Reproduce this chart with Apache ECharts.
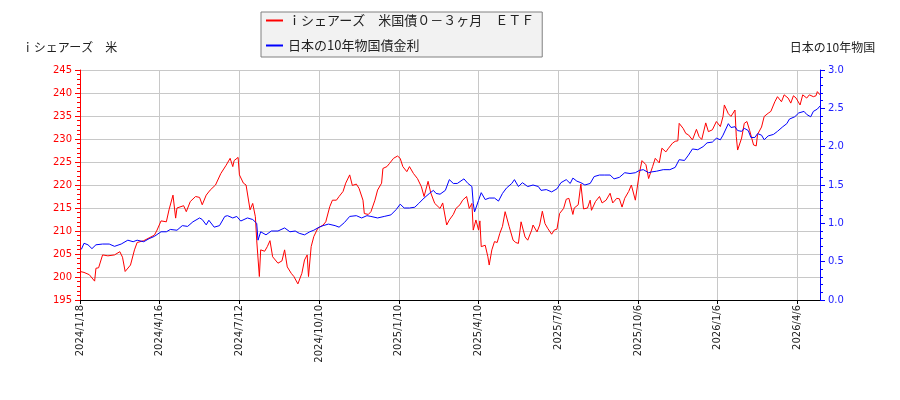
<!DOCTYPE html>
<html>
<head>
<meta charset="utf-8">
<script src="https://cdn.jsdelivr.net/npm/echarts@6/dist/echarts.min.js"></script>
<style>
body{margin:0;background:#fff;}
#main{width:900px;height:400px;}
</style>
</head>
<body>
<div id="main"></div>
<script>
// x = trading-day index from 2024/1/18, one label every 60 days
var tickLabels = ['2024/1/18','2024/4/16','2024/7/12','2024/10/10','2025/1/10','2025/4/10','2025/7/8','2025/10/6','2026/1/6','2026/4/6'];
var lastDay = 557;

var etfName = 'ｉシェアーズ　米国債０－３ヶ月　ＥＴＦ';
var jgbName = '日本の10年物国債金利';

var etfDay = [0,3,7,11,12,14,17,21,26,30,32,34,38,41,43,48,52,56,58,61,65,67,70,72,73,78,80,83,87,90,92,95,98,102,106,110,113,115,116,119,120,123,125,128,130,132,133,135,136,139,141,143,145,149,152,154,156,159,161,164,167,169,171,172,174,176,179,183,185,188,190,193,195,198,200,203,205,208,210,213,214,217,219,222,224,227,228,231,233,236,239,241,243,246,248,251,254,257,259,262,264,267,271,273,276,278,281,283,286,288,291,293,295,296,298,300,301,302,305,307,308,310,312,314,316,318,320,323,326,328,330,332,335,337,340,341,344,346,348,350,352,355,357,359,361,364,366,368,371,372,375,377,379,382,384,385,388,391,393,396,399,401,404,406,408,410,413,415,418,419,421,423,426,428,431,433,436,438,441,443,446,448,450,451,454,456,458,461,464,466,468,471,473,476,479,482,484,485,488,490,493,494,495,498,500,502,504,507,509,510,513,515,518,520,523,525,528,530,533,535,537,539,542,544,547,549,552,554,555,557];
var etfPrice = [201.2,201.0,200.5,199.1,201.9,202.0,204.8,204.6,204.8,205.5,204.3,201.2,202.6,205.9,207.5,207.9,208.5,209.1,210.2,212.2,212.0,214.6,217.8,212.8,215.0,215.5,214.2,216.4,217.5,217.3,215.7,217.8,218.9,220.0,222.5,224.3,225.8,224.0,225.3,226.0,222.2,220.4,220.0,214.6,216.0,213.1,208.0,200.1,205.9,205.6,206.6,207.9,204.4,203.0,203.5,205.9,202.2,200.8,200.1,198.5,200.8,203.7,204.8,200.1,206.6,208.8,210.6,211.3,212.0,215.3,216.7,216.7,217.5,218.6,220.4,222.2,219.9,220.2,219.3,216.7,213.8,213.6,214.2,216.7,218.9,220.4,223.6,224.0,224.7,225.8,226.3,225.8,224.0,222.9,224.0,222.5,221.4,219.6,217.5,220.8,218.3,216.0,214.9,216.1,211.3,212.4,213.6,214.9,215.7,216.7,217.5,214.9,216.0,210.2,212.4,210.2,212.2,206.6,206.9,204.4,202.6,205.9,207.7,207.5,209.5,211.0,214.2,211.0,208.0,207.5,207.3,212.0,208.7,208.0,210.2,211.3,209.8,211.3,214.3,211.6,210.6,209.3,210.2,210.4,213.8,214.9,216.9,217.1,213.6,215.0,215.7,220.2,214.8,215.0,216.7,214.5,216.4,217.5,216.1,216.7,218.2,216.1,217.1,217.0,215.2,217.1,218.6,220.0,216.7,217.0,222.5,225.3,224.4,221.4,224.0,225.8,224.8,228.0,227.2,228.0,229.1,229.5,229.6,233.4,232.3,231.2,230.9,229.8,232.1,230.5,229.9,233.5,231.6,232.0,233.8,232.7,234.9,237.4,235.5,234.9,236.3,230.5,227.6,230.2,233.4,233.8,231.9,228.7,228.5,231.0,232.6,234.9,235.6,236.0,238.1,239.2,238.1,239.6,238.9,237.8,239.4,238.9,237.4,239.6,238.9,239.6,239.2,239.4,240.3,239.6];

var jgbDay = [1,3,6,9,12,17,22,26,31,36,40,43,48,52,56,61,65,68,73,77,81,85,90,92,95,97,101,105,109,111,115,118,121,126,130,133,134,136,140,144,149,154,158,162,165,169,173,176,180,183,187,192,195,199,203,208,212,216,219,224,229,234,238,241,244,248,252,255,259,263,266,268,271,275,278,281,284,289,292,295,296,297,300,302,305,308,312,315,318,321,325,327,330,333,337,341,345,347,351,355,359,362,366,369,371,374,377,380,384,387,391,395,399,402,406,410,414,418,421,424,428,430,434,439,444,448,451,455,458,461,465,469,472,476,479,482,484,488,490,493,495,498,500,503,505,508,510,513,515,518,522,525,529,532,534,538,541,545,547,550,552,555,557];
var jgbYield = [0.66,0.74,0.72,0.67,0.72,0.73,0.73,0.70,0.73,0.78,0.76,0.78,0.76,0.80,0.83,0.89,0.89,0.92,0.91,0.97,0.96,1.02,1.07,1.05,0.98,1.04,0.95,0.97,1.09,1.10,1.07,1.09,1.03,1.07,1.05,1.00,0.78,0.89,0.85,0.90,0.90,0.94,0.89,0.90,0.87,0.85,0.89,0.91,0.95,0.97,0.99,0.97,0.95,1.01,1.09,1.10,1.07,1.10,1.09,1.07,1.09,1.11,1.18,1.25,1.20,1.20,1.21,1.26,1.33,1.39,1.43,1.39,1.38,1.43,1.57,1.52,1.52,1.58,1.52,1.48,1.26,1.15,1.30,1.40,1.31,1.33,1.33,1.29,1.39,1.46,1.52,1.57,1.48,1.53,1.48,1.50,1.48,1.43,1.44,1.41,1.45,1.53,1.57,1.52,1.59,1.55,1.53,1.50,1.52,1.61,1.63,1.63,1.63,1.58,1.60,1.66,1.65,1.66,1.69,1.70,1.66,1.67,1.68,1.70,1.70,1.73,1.83,1.82,1.89,1.97,1.96,2.00,2.05,2.06,2.11,2.09,2.15,2.30,2.25,2.26,2.21,2.20,2.24,2.21,2.12,2.12,2.17,2.15,2.09,2.14,2.16,2.20,2.26,2.30,2.36,2.39,2.44,2.46,2.42,2.39,2.46,2.49,2.53];

function zip(xs, ys){
    var out = [];
    for (var i = 0; i < xs.length; i++) {
        out.push([xs[i], ys[i]]);
    }
    return out;
}

var myChart = echarts.init(document.getElementById('main'));
var numFont = 'DejaVu Sans';
var jpFont = '"Noto Sans CJK JP", sans-serif';

var option = {
    animation: false,
    backgroundColor: '#ffffff',
    legend: {
        orient: 'vertical',
        left: 261,
        top: 12,
        padding: [2, 8, 5, 5],
        itemGap: 12,
        itemWidth: 17,
        itemHeight: 2,
        backgroundColor: '#f2f2f2',
        borderColor: '#808080',
        borderWidth: 1,
        borderRadius: 0,
        textStyle: {fontFamily: jpFont, fontSize: 13, color: '#222'},
        data: [
            {name: etfName, icon: 'rect'},
            {name: jgbName, icon: 'rect'}
        ]
    },
    grid: {
        left: 80,
        right: 80,
        top: 70,
        bottom: 100
    },
    xAxis: {
        type: 'value',
        min: 0,
        max: lastDay,
        interval: 60,
        axisLine: {lineStyle: {color: '#000', width: 1}},
        axisTick: {show: true, length: 4, lineStyle: {color: '#000'}},
        axisLabel: {
            rotate: 90,
            margin: 5,
            fontFamily: numFont,
            fontSize: 10,
            color: '#222',
            showMaxLabel: false,
            formatter: function(v){
                if (v % 60 !== 0) return '';
                return tickLabels[v / 60] || '';
            }
        },
        splitLine: {show: true, lineStyle: {color: '#c8c8c8', width: 1}}
    },
    yAxis: [
        {
            type: 'value',
            position: 'left',
            min: 195,
            max: 245,
            interval: 5,
            name: 'ｉシェアーズ　米',
            nameLocation: 'end',
            nameGap: 17,
            nameTextStyle: {fontFamily: jpFont, fontSize: 12, color: '#222', padding: [0, 21, 0, 0]},
            axisLine: {show: true, lineStyle: {color: '#ff0000', width: 1}},
            axisTick: {show: true, length: 5, lineStyle: {color: '#ff0000'}},
            minorTick: {show: true, splitNumber: 5, length: 3, lineStyle: {color: '#ff0000'}},
            axisLabel: {fontFamily: numFont, fontSize: 10, color: '#ff0000', margin: 8},
            splitLine: {show: true, lineStyle: {color: '#c8c8c8', width: 1}}
        },
        {
            type: 'value',
            position: 'right',
            min: 0,
            max: 3,
            interval: 0.5,
            name: '日本の10年物国',
            nameLocation: 'end',
            nameGap: 17,
            nameTextStyle: {fontFamily: jpFont, fontSize: 12, color: '#222', padding: [0, 0, 0, 25]},
            axisLine: {show: true, lineStyle: {color: '#0000ff', width: 1}},
            axisTick: {show: true, length: 5, lineStyle: {color: '#0000ff'}},
            minorTick: {show: true, splitNumber: 5, length: 3, lineStyle: {color: '#0000ff'}},
            axisLabel: {
                fontFamily: numFont, fontSize: 10, color: '#2020ff', margin: 8,
                formatter: function(v){ return v.toFixed(1); }
            },
            splitLine: {show: false}
        }
    ],
    series: [
        {
            name: etfName,
            type: 'line',
            yAxisIndex: 0,
            data: zip(etfDay, etfPrice),
            showSymbol: false,
            symbol: 'none',
            color: '#ff0000',
            lineStyle: {color: '#ff0000', width: 1}
        },
        {
            name: jgbName,
            type: 'line',
            yAxisIndex: 1,
            data: zip(jgbDay, jgbYield),
            showSymbol: false,
            symbol: 'none',
            color: '#0000ff',
            lineStyle: {color: '#0000ff', width: 1}
        }
    ]
};
myChart.setOption(option);
</script>
</body>
</html>
